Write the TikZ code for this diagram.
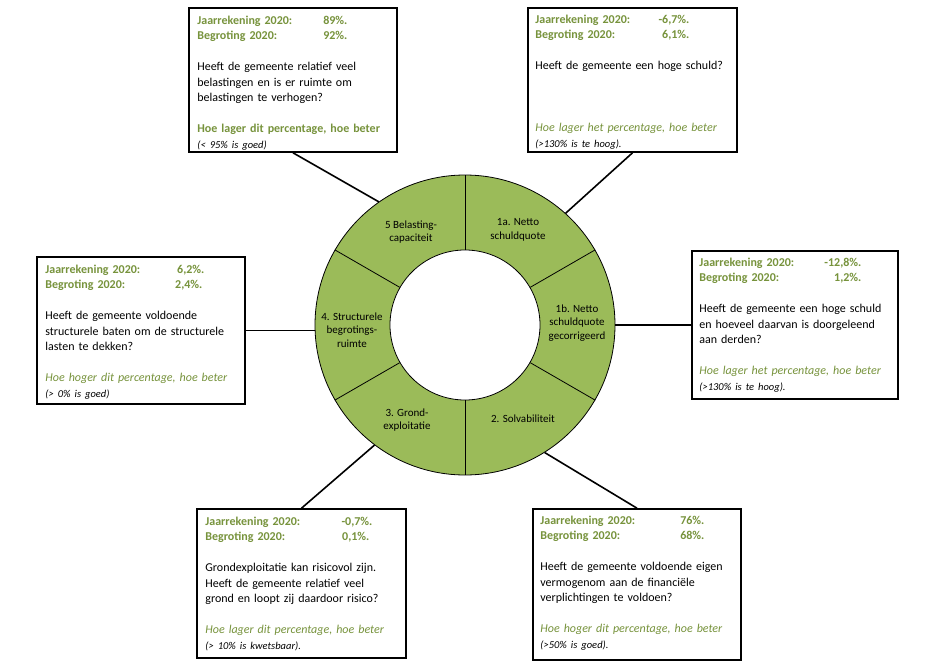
\documentclass[tikz,border=0pt]{standalone}
\usepackage{fontspec}
\setmainfont{Carlito}
\usetikzlibrary{calc}
\definecolor{ringgreen}{HTML}{9BBB59}
\definecolor{txtgreen}{HTML}{77933C}
\newcommand\kv[3]{{\color{txtgreen}\bfseries\makebox[#3pt][l]{#1}\llap{#2}}}
\newcommand\hoe[1]{{\color{txtgreen}\itshape #1}}
\newcommand\smallnote[1]{{\fontsize{10.5}{15.5}\selectfont\itshape #1}}
\begin{document}
\begin{tikzpicture}[x=1pt,y=-1pt,
  box/.style={draw, line width=1.6pt, fill=white, inner sep=0pt},
  boxtext/.style={anchor=base west, inner sep=0pt, align=left, text width=220pt,
    font=\fontsize{12}{15.5}\selectfont},
  seg/.style={font=\fontsize{11}{13.5}\selectfont, align=center, inner sep=0pt},
  conn/.style={line width=1.6pt},
  ringline/.style={line width=0.8pt}]
\useasboundingbox[fill=white] (0,0) rectangle (930,672);

% donut
\node[circle, draw, ringline, fill=ringgreen, minimum size=300pt, inner sep=0pt] (ring) at (465,325) {};
\node[circle, draw, ringline, fill=white, minimum size=150pt, inner sep=0pt] (hole) at (465,325) {};
\foreach \a in {30,90,...,330} \draw[ringline] (hole.\a) -- (ring.\a);

\node[seg] (s5) at (411,232) {5 Belasting-\\capaciteit};
\node[seg] (s1a) at (518,230) {1a. Netto\\schuldquote};
\node[seg] (s1b) at (577,323) {1b. Netto\\schuldquote\\gecorrigeerd};
\node[seg] (s2) at (523,419) {2. Solvabiliteit};
\node[seg] (s3) at (407,420) {3. Grond-\\exploitatie};
\node[seg] (s4) at (352,330) {4. Structurele\\begrotings-\\ruimte};

% boxes
\node[box, minimum width=208pt, minimum height=144pt] (b5) at (293,80) {};
\node[box, minimum width=209pt, minimum height=144pt] (b1a) at (632.5,80) {};
\node[box, minimum width=208pt, minimum height=147pt] (b4) at (141,330.5) {};
\node[box, minimum width=206pt, minimum height=148pt] (b1b) at (795,325) {};
\node[box, minimum width=209pt, minimum height=149pt] (b3) at (301.5,583.5) {};
\node[box, minimum width=208pt, minimum height=151pt] (b2) at (637,584.5) {};

% connectors
\draw[conn] (b5.south) -- (ring.125);
\draw[conn] (b1a.south) -- (ring.48);
\draw[conn] (b4.east) -- (b4.east -| ring.west);
\draw[conn] (b1b.west) -- (ring.east);
\draw[conn] (b3.north) -- (ring.233);
\draw[conn] (b2.north) -- (ring.302);

% box texts
\node[boxtext] (t5) at ($(b5.north west)+(9,17)$) {%
\kv{Jaarrekening 2020:}{89\%.}{150}\\
\kv{Begroting 2020:}{92\%.}{150}\\[15.5pt]
Heeft de gemeente relatief veel\\
belastingen en is er ruimte om\\
belastingen te verhogen?\\[15.5pt]
{\color{txtgreen}\bfseries Hoe lager dit percentage, hoe beter}\\
\smallnote{(< 95\% is goed)}};

\node[boxtext] (t1a) at ($(b1a.north west)+(8,16)$) {%
\kv{Jaarrekening 2020:}{-6,7\%.}{154}\\
\kv{Begroting 2020:}{6,1\%.}{154}\\[15.5pt]
Heeft de gemeente een hoge schuld?\\[46.5pt]
\hoe{Hoe lager het percentage, hoe beter}\\
\smallnote{(>130\% is te hoog).}};

\node[boxtext] (t4) at ($(b4.north west)+(9,17)$) {%
\kv{Jaarrekening 2020:}{6,2\%.}{159}\\
\kv{Begroting 2020:}{2,4\%.}{157}\\[15.5pt]
Heeft de gemeente voldoende\\
structurele baten om de structurele\\
lasten te dekken?\\[15.5pt]
\hoe{Hoe hoger dit percentage, hoe beter}\\
\smallnote{(> 0\% is goed)}};

\node[boxtext] (t1b) at ($(b1b.north west)+(8,16)$) {%
\kv{Jaarrekening 2020:}{-12,8\%.}{162}\\
\kv{Begroting 2020:}{1,2\%.}{162}\\[15.5pt]
Heeft de gemeente een hoge schuld\\
en hoeveel daarvan is doorgeleend\\
aan derden?\\[15.5pt]
\hoe{Hoe lager het percentage, hoe beter}\\
\smallnote{(>130\% is te hoog).}};

\node[boxtext] (t3) at ($(b3.north west)+(9,17)$) {%
\kv{Jaarrekening 2020:}{-0,7\%.}{167}\\
\kv{Begroting 2020:}{0,1\%.}{164}\\[15.5pt]
Grondexploitatie kan risicovol zijn.\\
Heeft de gemeente relatief veel\\
grond en loopt zij daardoor risico?\\[15.5pt]
\hoe{Hoe lager dit percentage, hoe beter}\\
\smallnote{(> 10\% is kwetsbaar).}};

\node[boxtext] (t2) at ($(b2.north west)+(8,16)$) {%
\kv{Jaarrekening 2020:}{76\%.}{164}\\
\kv{Begroting 2020:}{68\%.}{164}\\[15.5pt]
Heeft de gemeente voldoende eigen\\
vermogenom aan de financiële\\
verplichtingen te voldoen?\\[15.5pt]
\hoe{Hoe hoger dit percentage, hoe beter}\\
\smallnote{(>50\% is goed).}};
\end{tikzpicture}
\end{document}
